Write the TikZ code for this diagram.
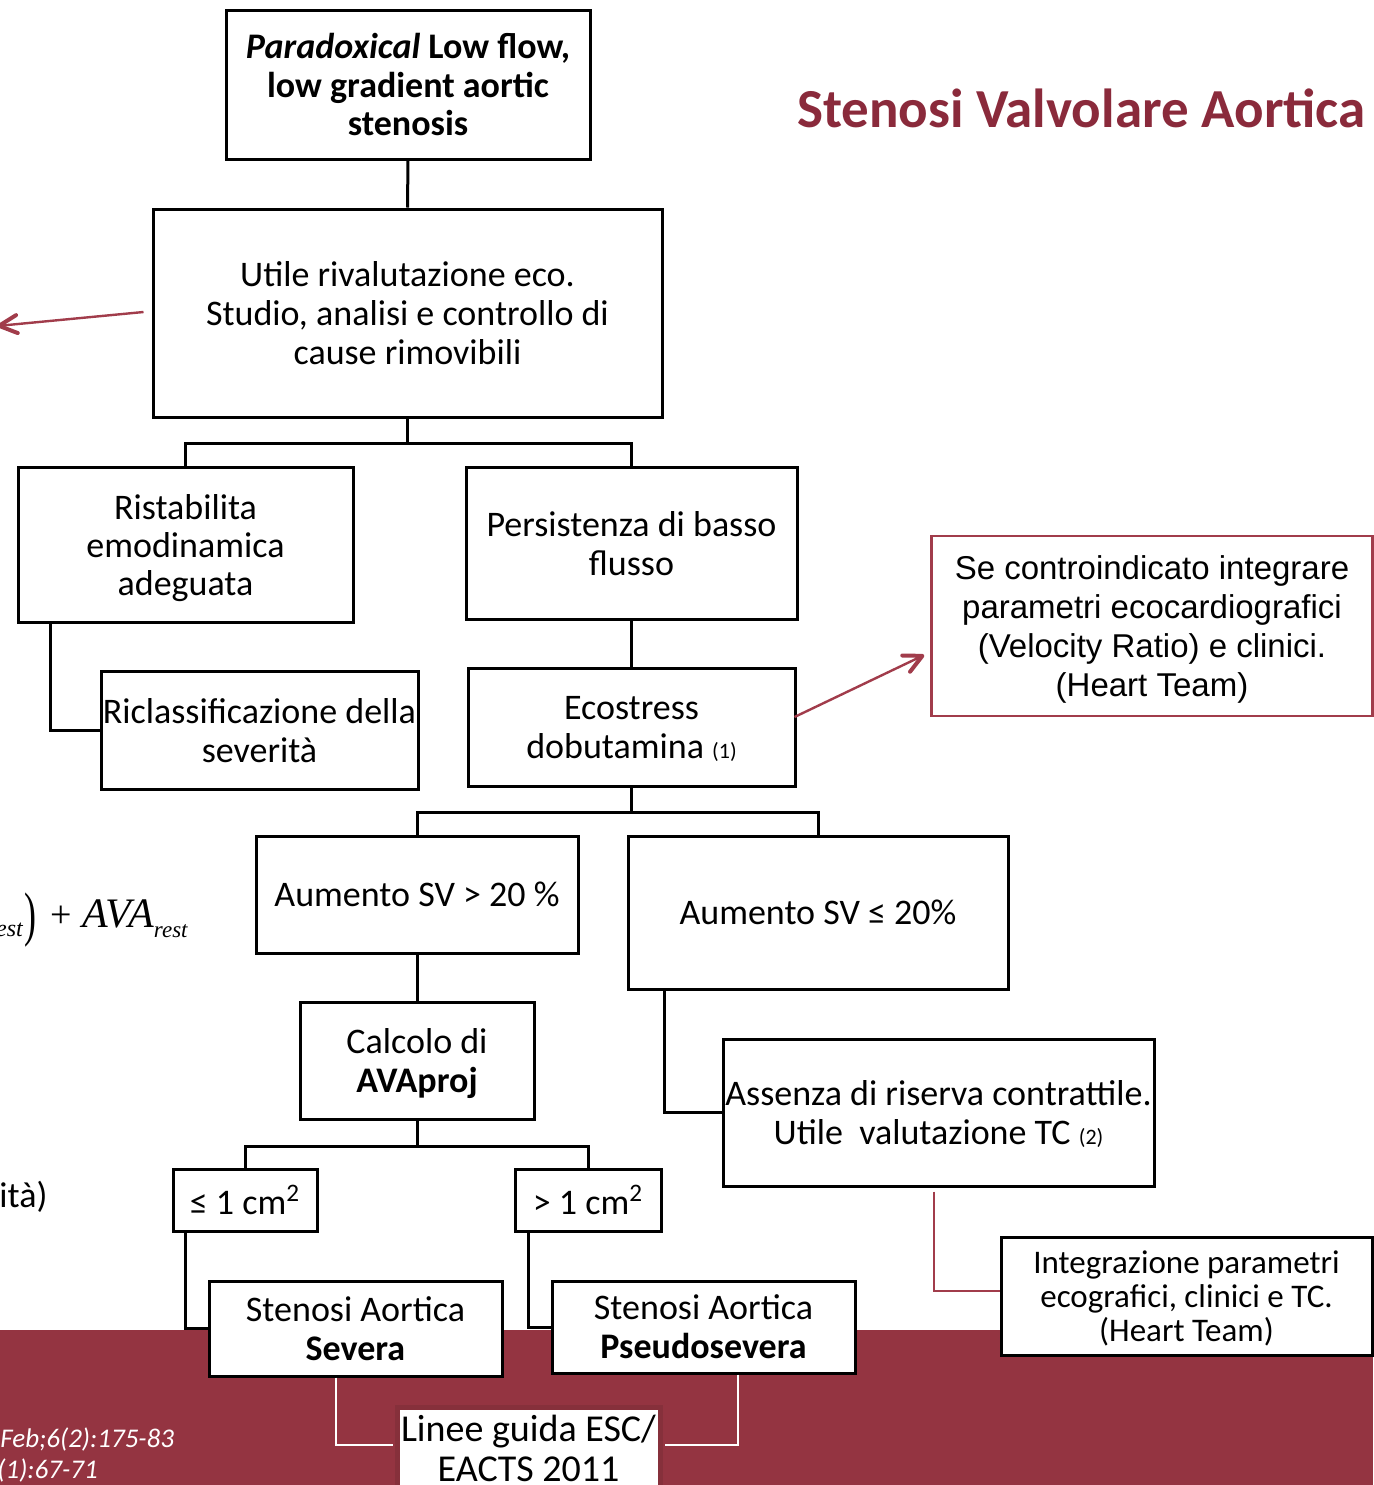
\documentclass[tikz,border=0pt]{standalone}
\usepackage{fontspec}
\setmainfont{Carlito}
\newfontfamily\arialfont{Liberation Sans}
\newfontfamily\timesfont{Liberation Serif}
\usetikzlibrary{arrows.meta,calc}
\definecolor{bandred}{HTML}{943441}
\definecolor{titlered}{HTML}{8A2A3B}
\definecolor{linkred}{HTML}{A13C4B}
\definecolor{rimred}{HTML}{86303B}

\begin{document}
\begin{tikzpicture}[x=0.5pt,y=-0.5pt,
  box/.style={draw=black,line width=1.5pt,fill=white,inner sep=0pt,align=center,
    text depth=0pt,font=\fontsize{18}{19.5}\selectfont},
  conn/.style={draw=black,line width=1.5pt},
  redlink/.style={draw=linkred,line width=1.2pt},
  whitelink/.style={draw=white,line width=1.3pt},
  redtip/.style={-{Straight Barb[length=9pt,width=9pt,line width=2pt,round]}},
  reftext/.style={anchor=base west,inner sep=0pt,text=white,font=\itshape\fontsize{13.5}{14}\selectfont}]

\useasboundingbox (0,0) rectangle (1373,1485);

% footer band
\fill[bandred] (0,1330) rectangle (1373,1485);

% title
\node[anchor=base east,inner sep=0pt,text=titlered,
  font=\bfseries\fontsize{27.5}{30}\selectfont] (title) at (1366,127) {Stenosi Valvolare Aortica};

% flow boxes
\node[box,font=\bfseries\fontsize{18}{19.25}\selectfont,minimum width=182pt,minimum height=74.5pt]
  (start) at (408,84.5) {\textit{Paradoxical} Low flow,\\low gradient aortic\\stenosis};
\node[box,minimum width=254.5pt,minimum height=104pt]
  (reval) at (407.5,313) {Utile rivalutazione eco.\\Studio, analisi e controllo di\\cause rimovibili};
\node[box,font=\fontsize{18}{19}\selectfont,minimum width=167.5pt,minimum height=77.5pt]
  (ristab) at (185.5,544.5) {Ristabilita\\emodinamica\\adeguata};
\node[box,minimum width=165.5pt,minimum height=76pt]
  (persist) at (631.5,543) {Persistenza di basso\\flusso};
\node[box,minimum width=158.5pt,minimum height=59pt]
  (riclass) at (259.5,730) {Riclassificazione della\\severità};
\node[box,minimum width=163.5pt,minimum height=59pt]
  (stress) at (631.5,727) {Ecostress\\dobutamina {\fontsize{11}{11}\selectfont(1)}};
\node[box,draw=linkred,line width=1.3pt,font=\arialfont\fontsize{16.5}{19.5}\selectfont,
  minimum width=220.5pt,minimum height=90pt]
  (contra) at (1152,626) {Se controindicato integrare\\parametri ecocardiografici\\(Velocity Ratio) e clinici.\\(Heart Team)};
\node[box,minimum width=161pt,minimum height=58.5pt]
  (up) at (417,894.5) {Aumento SV > 20 \%};
\node[box,minimum width=190pt,minimum height=76.5pt]
  (low) at (818,912.5) {Aumento SV ≤ 20\%};
\node[box,minimum width=117pt,minimum height=58.5pt]
  (calc) at (417,1060.5) {Calcolo di\\\textbf{AVAproj}};
\node[box,minimum width=215.5pt,minimum height=73.5pt]
  (noreserve) at (938.5,1112.5) {Assenza di riserva contrattile.\\Utile\ \ valutazione TC {\fontsize{11}{11}\selectfont(2)}};
\node[box,minimum width=72pt,minimum height=31pt]
  (lesseq) at (245,1200) {≤ 1 cm\textsuperscript{2}};
\node[box,minimum width=73pt,minimum height=31pt]
  (greater) at (588,1200) {> 1 cm\textsuperscript{2}};
\node[box,minimum width=146.5pt,minimum height=47.5pt]
  (severe) at (355.5,1328.5) {Stenosi Aortica\\\textbf{Severa}};
\node[box,minimum width=151.5pt,minimum height=46pt]
  (pseudo) at (703.5,1327) {Stenosi Aortica\\\textbf{Pseudosevera}};
\node[box,font=\fontsize{16.5}{17}\selectfont,minimum width=185.5pt,minimum height=59pt]
  (integr) at (1186.5,1296) {Integrazione parametri\\ecografici, clinici e TC.\\(Heart Team)};
\node[box,draw=rimred,line width=2.5pt,font=\fontsize{19}{20}\selectfont,
  minimum width=131.5pt,minimum height=41.5pt]
  (esc) at (528.5,1448.5) {Linee guida ESC/\\EACTS 2011};

% black connectors
\draw[conn] (start.south) -- (reval.north);
\draw[conn] (reval.south) -- ++(0,25) -| (ristab.north);
\draw[conn] (reval.south) -- ++(0,25) -| (persist.north);
\draw[conn] ($(ristab.south west)+(34,0)$) |- (riclass.west);
\draw[conn] (persist.south) -- (stress.north);
\draw[conn] (stress.south) -- ++(0,25) -| (up.north);
\draw[conn] (stress.south) -- ++(0,25) -| (low.north);
\draw[conn] (up.south) -- (calc.north);
\draw[conn] ($(low.south west)+(38,0)$) |- (noreserve.west);
\draw[conn] (calc.south) -- ++(0,26) -| (lesseq.north);
\draw[conn] (calc.south) -- ++(0,26) -| (greater.north);
\draw[conn] ($(lesseq.south west)+(14,0)$) |- (severe.west);
\draw[conn] ($(greater.south west)+(15,0)$) |- (pseudo.west);

% red links
\draw[redlink] ($(noreserve.south)+(-4.5,4)$) |- ($(integr.west)+(0,-5)$);
\draw[redlink,redtip] ($(stress.east)+(-2,-10)$) -- ($(contra.west)+(-6,29)$);
\coordinate (offleft) at (-3,326);
\draw[redlink,redtip] ($(reval.west)+(-8,-1)$) -- (offleft);

% white links on the band
\draw[whitelink] ($(severe.south)+(-19.5,0)$) |- ($(esc.west)+(-2,-3.5)$);
\draw[whitelink] ($(pseudo.south)+(34.5,0)$) |- ($(esc.east)+(2,-3.5)$);

% partial texts at the left edge
\node[anchor=base east,inner sep=0pt,font=\timesfont] (eqtail) at (188,927)
  {\raisebox{-4.5pt}{\itshape\fontsize{12}{12}\selectfont rest}\hspace{1pt}%
   \raisebox{-3.5pt}{\scalebox{0.6}[1]{\fontsize{30}{30}\selectfont)}}\hspace{7pt}%
   {\fontsize{19}{19}\selectfont+\hspace{5pt}\itshape\fontsize{21}{21}\selectfont AVA}%
   \raisebox{-5pt}{\itshape\fontsize{11.5}{11.5}\selectfont rest}};
\node[anchor=base west,inner sep=0pt,font=\fontsize{18}{19.5}\selectfont] (tailtext) at (-1,1207) {ità)};
\node[reftext] (refa) at (0,1447) {Feb;6(2):175-83};
\node[reftext] (refb) at (-3,1478) {(1):67-71};
\end{tikzpicture}
\end{document}
